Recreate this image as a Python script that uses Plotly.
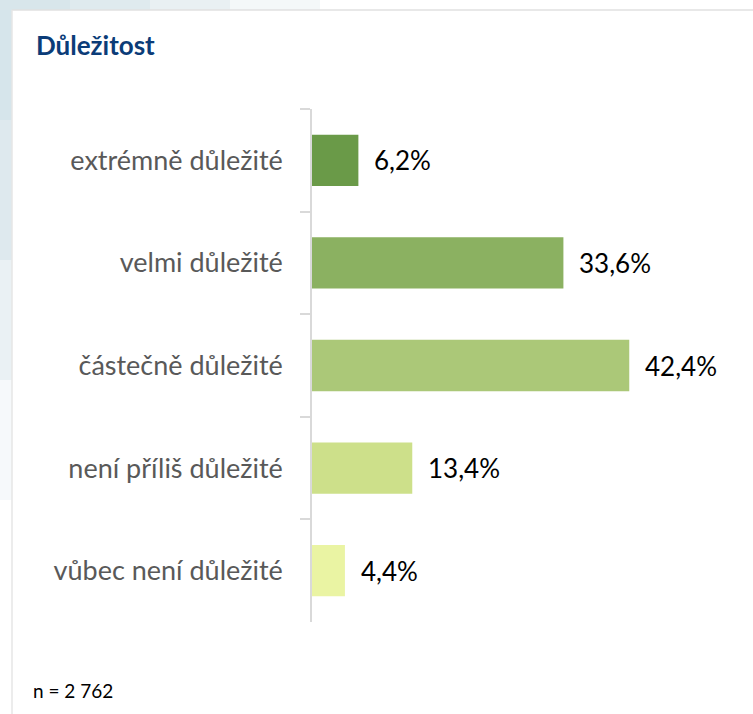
import plotly.graph_objects as go

categories = ["extrémně důležité", "velmi důležité", "částečně důležité",
              "není příliš důležité", "vůbec není důležité"]
values = [6.2, 33.6, 42.4, 13.4, 4.4]
colors = ["#6a9a48", "#8bb161", "#abc878", "#cde08a", "#eaf4a3"]
title_text = "Důležitost"
note_text = "n = 2 762"

labels = [f"{v:.1f}".replace(".", ",") + "%" for v in values]

W, H = 753, 714
L, R, T, B = 312, 13, 109, 92
PW, PH = W - L - R, H - T - B


def px(x):
    return (x - L) / PW


def py(y):
    return (H - B - y) / PH


fig = go.Figure()
fig.add_trace(go.Bar(
    x=values, y=categories, orientation="h",
    marker=dict(color=colors, line=dict(width=0)),
    hoverinfo="skip", showlegend=False,
))

for v, c, t in zip(values, categories, labels):
    fig.add_annotation(x=v, y=c, text=t, showarrow=False, xanchor="left",
                       xshift=14, font=dict(family="Lato, sans-serif", size=26, color="#000000"))

shapes = []
# bluish textured border outside the card (approximated)
for x1, op in [(320, 0.25), (230, 0.35), (150, 0.45), (70, 0.6)]:
    shapes.append(dict(type="rect", xref="paper", yref="paper", x0=px(0), x1=px(x1),
                       y0=py(10), y1=py(0), fillcolor="#d3e2e9", opacity=op,
                       line=dict(width=0), layer="below"))
for y1, op in [(500, 0.2), (380, 0.35), (260, 0.55), (120, 0.7)]:
    shapes.append(dict(type="rect", xref="paper", yref="paper", x0=px(0), x1=px(12),
                       y0=py(y1), y1=py(10), fillcolor="#d3e2e9", opacity=op,
                       line=dict(width=0), layer="below"))
# card border lines
shapes.append(dict(type="line", xref="paper", yref="paper", x0=px(12), x1=px(W),
                   y0=py(10), y1=py(10), line=dict(color="#e0e0e0", width=1.5)))
shapes.append(dict(type="line", xref="paper", yref="paper", x0=px(12), x1=px(12),
                   y0=py(H), y1=py(10), line=dict(color="#e6e6e6", width=1.5)))

fig.add_annotation(xref="paper", yref="paper", x=px(34), y=py(45),
                   text=f"<b>{title_text}</b>", showarrow=False, xanchor="left", yanchor="middle",
                   font=dict(family="Lato, sans-serif", size=26, color="#0b3c78"))
fig.add_annotation(xref="paper", yref="paper", x=px(31), y=py(690),
                   text=note_text, showarrow=False, xanchor="left", yanchor="middle",
                   font=dict(family="Lato, sans-serif", size=19, color="#000000"))

fig.update_layout(
    width=W, height=H,
    margin=dict(l=L, r=R, t=T, b=B),
    paper_bgcolor="#ffffff", plot_bgcolor="rgba(0,0,0,0)",
    bargap=0.5,
    shapes=shapes,
    xaxis=dict(range=[0, 57.2], visible=False, fixedrange=True),
    yaxis=dict(categoryorder="array", categoryarray=categories, autorange="reversed",
               showline=True, linecolor="#d9d9d9", linewidth=1.5,
               ticks="outside", ticklen=10, tickcolor="#d9d9d9", tickwidth=1.5,
               tickson="boundaries", ticklabelstandoff=22, fixedrange=True,
               tickfont=dict(family="Lato, sans-serif", size=27, color="#595959"),
               showgrid=False, zeroline=False),
    font=dict(family="Lato, sans-serif"),
)

fig.write_html("out.html", config={"displayModeBar": False},
               post_script="document.body.style.margin='0';")
